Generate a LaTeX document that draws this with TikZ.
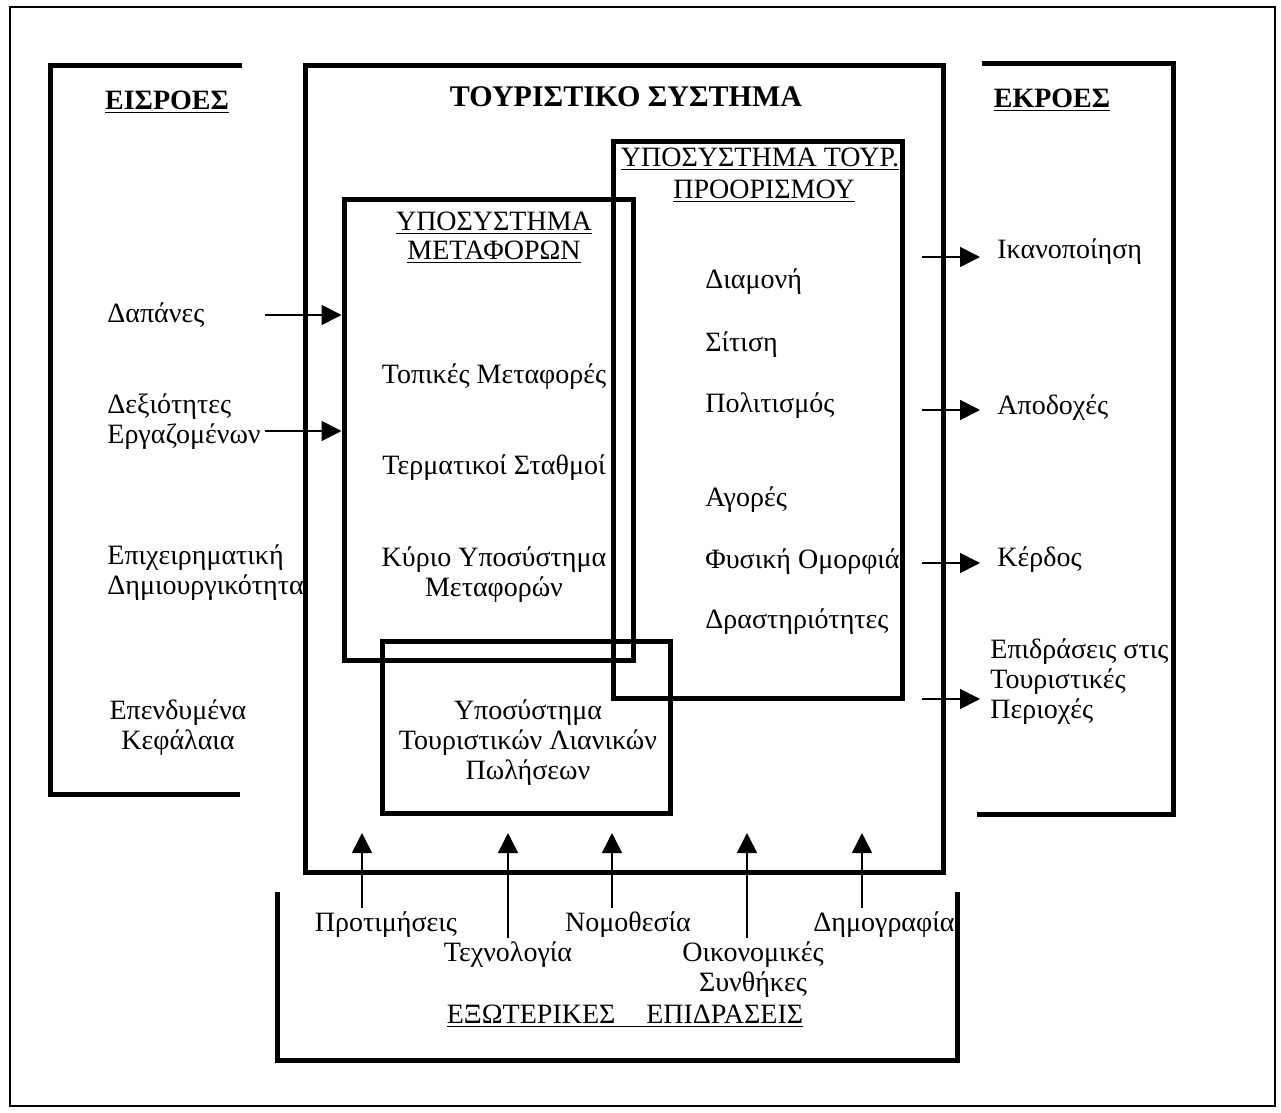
\documentclass[tikz,border=0pt]{standalone}
\usepackage{fontspec}
\setmainfont{Liberation Serif}
\usetikzlibrary{arrows.meta,fit}
\begin{document}
\begin{tikzpicture}[x=0.5pt,y=-0.5pt,
  box/.style={draw, line width=2.5pt, inner sep=0pt},
  bracket/.style={line width=2.5pt},
  outerframe/.style={line width=1pt},
  arr/.style={line width=0.8pt, -{Triangle[length=10pt,width=10pt]}},
  txt/.style={inner sep=2pt, font=\fontsize{14}{15}\selectfont},
  ttl/.style={inner sep=2pt, font=\fontsize{14}{15}\selectfont\bfseries},
  bigttl/.style={inner sep=2pt, font=\fontsize{15}{18}\selectfont\bfseries}]
\useasboundingbox (0,0) rectangle (1281,1113);
\draw[outerframe] (10,7) rectangle (1275,1106);

% open brackets
\draw[bracket] (242,66) -- (50,66) -- (50,794) -- (240,794);
\draw[bracket] (982,64) -- (1173,64) -- (1173,814) -- (977,814);
\draw[bracket] (277,892) -- (277,1060) -- (957,1060) -- (957,892);

% boxes
\node[box, fit={(305,66) (943,872)}] (ts) {};
\node[box, fit={(344,200) (633,660)}] (tr) {};
\node[box, fit={(613,142) (902,698)}] (dest) {};
\node[box, fit={(382,641) (670,813)}] (ret) {};

% titles
\node[ttl] (tin) at (167,102) {\underline{ΕΙΣΡΟΕΣ}};
\node[bigttl] (tsys) at (626,97) {ΤΟΥΡΙΣΤΙΚΟ ΣΥΣΤΗΜΑ};
\node[ttl] (tout) at (1052,100) {\underline{ΕΚΡΟΕΣ}};
\node[txt] (trt1) at (494,223) {\underline{ΥΠΟΣΥΣΤΗΜΑ}};
\node[txt] (trt2) at (494,252) {\underline{ΜΕΤΑΦΟΡΩΝ}};
\node[txt] (dt1) at (760,159) {\underline{ΥΠΟΣΥΣΤΗΜΑ ΤΟΥΡ.}};
\node[txt] (dt2) at (764,191) {\underline{ΠΡΟΟΡΙΣΜΟΥ}};

% inputs
\node[txt, anchor=west] (dap) at (103,315) {Δαπάνες};
\node[txt, anchor=west, align=left] (dex) at (103,422) {Δεξιότητες\\Εργαζομένων};
\node[txt, anchor=west, align=left] (epix) at (103,573) {Επιχειρηματική\\Δημιουργικότητα};
\node[txt, align=center] (epen) at (178,728) {Επενδυμένα\\Κεφάλαια};

% transport subsystem
\node[txt] (top) at (494,377) {Τοπικές Μεταφορές};
\node[txt] (term) at (494,468) {Τερματικοί Σταθμοί};
\node[txt, align=center] (kyr) at (494,575) {Κύριο Υποσύστημα\\Μεταφορών};

% destination subsystem
\node[txt, anchor=west] (diam) at (701,282) {Διαμονή};
\node[txt, anchor=west] (sit) at (701,345) {Σίτιση};
\node[txt, anchor=west] (pol) at (701,406) {Πολιτισμός};
\node[txt, anchor=west] (agor) at (701,500) {Αγορές};
\node[txt, anchor=west] (fys) at (701,562) {Φυσική Ομορφιά};
\node[txt, anchor=west] (dras) at (701,622) {Δραστηριότητες};

% retail subsystem
\node[txt, align=center] (retx) at (528,743) {Υποσύστημα\\Τουριστικών Λιανικών\\Πωλήσεων};

% outputs
\node[txt, anchor=west] (ik) at (993,252) {Ικανοποίηση};
\node[txt, anchor=west] (apod) at (993,408) {Αποδοχές};
\node[txt, anchor=west] (kerd) at (993,560) {Κέρδος};
\node[txt, anchor=west, align=left] (epid) at (986,682) {Επιδράσεις στις\\Τουριστικές\\Περιοχές};

% external influences
\node[txt] (prot) at (386,925) {Προτιμήσεις};
\node[txt] (tech) at (508,955) {Τεχνολογία};
\node[txt] (nomo) at (628,925) {Νομοθεσία};
\node[txt, align=center] (oik) at (753,970) {Οικονομικές\\Συνθήκες};
\node[txt] (dim) at (884,925) {Δημογραφία};
\node[txt] (ext) at (625,1016) {\underline{ΕΞΩΤΕΡΙΚΕΣ\hspace{1.1em}ΕΠΙΔΡΑΣΕΙΣ}};

% input arrows
\coordinate (dapS) at (265,315);
\coordinate (dexS) at (265,431);
\draw[arr] (dapS) -- (dapS -| tr.west);
\draw[arr] (dexS) -- (dexS -| tr.west);

% output arrows
\coordinate (ikS) at (922,257);
\coordinate (apS) at (922,410);
\coordinate (keS) at (922,563);
\coordinate (epS) at (922,699);
\draw[arr, shorten >=6.5pt] (ikS) -- (ikS -| ik.west);
\draw[arr, shorten >=6.5pt] (apS) -- (apS -| apod.west);
\draw[arr, shorten >=6.5pt] (keS) -- (keS -| kerd.west);
\draw[arr, shorten >=3pt] (epS) -- (epS -| epid.west);

% external arrows
\coordinate (prT) at (362,833);
\coordinate (teT) at (508,833);
\coordinate (noT) at (612,833);
\coordinate (oiT) at (747,833);
\coordinate (diT) at (862,833);
\draw[arr] (prT |- prot.north) -- (prT);
\draw[arr] (teT |- tech.north) -- (teT);
\draw[arr] (noT |- nomo.north) -- (noT);
\draw[arr] (oiT |- oik.north) -- (oiT);
\draw[arr] (diT |- dim.north) -- (diT);
\end{tikzpicture}
\end{document}
